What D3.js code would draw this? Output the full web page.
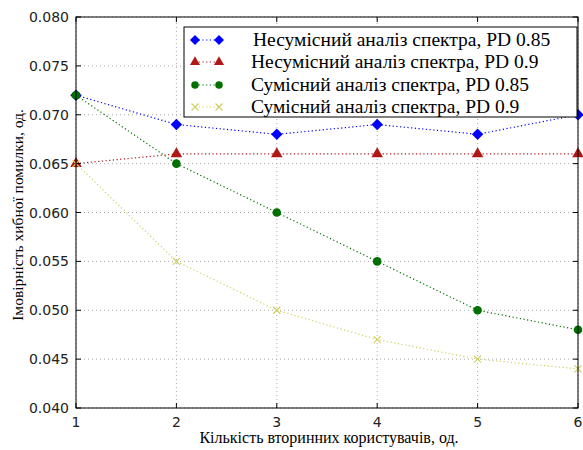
<!DOCTYPE html>
<html>
<head>
<meta charset="utf-8">
<script src="https://cdn.jsdelivr.net/npm/d3@7"></script>
<style>
  body { margin: 0; background: #fff; }
  svg { display: block; }
</style>
</head>
<body>
<div id="chart"></div>
<script>
  var users = [1, 2, 3, 4, 5, 6];
  var xTicks = [1, 2, 3, 4, 5, 6];
  var yTicks = [0.040, 0.045, 0.050, 0.055, 0.060, 0.065, 0.070, 0.075, 0.080];

  var nesum085 = [0.072, 0.069, 0.068, 0.069, 0.068, 0.070];
  var nesum09 = [0.065, 0.066, 0.066, 0.066, 0.066, 0.066];
  var sum085 = [0.072, 0.065, 0.060, 0.055, 0.050, 0.048];
  var sum09 = [0.065, 0.055, 0.050, 0.047, 0.045, 0.044];

  var seriesNames = [
    "Несумісний аналіз спектра, PD 0.85",
    "Несумісний аналіз спектра, PD 0.9",
    "Сумісний аналіз спектра, PD 0.85",
    "Сумісний аналіз спектра, PD 0.9"
  ];

  var series = [
    { name: seriesNames[0], values: nesum085, color: "#0000ff", marker: "diamond" },
    { name: seriesNames[1], values: nesum09, color: "#b01818", marker: "triangle" },
    { name: seriesNames[2], values: sum085, color: "#007000", marker: "circle" },
    { name: seriesNames[3], values: sum09, color: "#d0d060", marker: "x" }
  ];

  var W = 583, H = 450;
  var m = { left: 76, right: 5, top: 17, bottom: 42 };
  var serif = "'Liberation Serif', 'Times New Roman', serif";
  var sans = "'DejaVu Sans', sans-serif";

  var svg = d3.select("#chart").append("svg").attr("width", W).attr("height", H);

  var x = d3.scaleLinear().domain([1, 6]).range([m.left, W - m.right]);
  var y = d3.scaleLinear().domain([0.040, 0.080]).range([H - m.bottom, m.top]);

  // grid
  var grid = svg.append("g");
  grid.selectAll(".gx").data(xTicks).enter().append("line")
    .attr("x1", d => x(d)).attr("x2", d => x(d))
    .attr("y1", y(0.040)).attr("y2", y(0.080))
    .attr("stroke", "#aaa").attr("stroke-width", 1).attr("stroke-dasharray", "1,3");
  grid.selectAll(".gy").data(yTicks).enter().append("line")
    .attr("x1", x(1)).attr("x2", x(6))
    .attr("y1", d => y(d)).attr("y2", d => y(d))
    .attr("stroke", "#aaa").attr("stroke-width", 1).attr("stroke-dasharray", "1,3");

  // lines
  var line = d3.line().x((d, i) => x(users[i])).y(d => y(d));
  svg.selectAll(".ser").data(series).enter().append("path")
    .attr("d", d => line(d.values))
    .attr("fill", "none")
    .attr("stroke", d => d.color)
    .attr("stroke-width", 1.2)
    .attr("stroke-dasharray", "1.2,2.5");

  function diamondPath(r) {
    return "M0," + (-r) + "L" + r + ",0L0," + r + "L" + (-r) + ",0Z";
  }

  function drawMarker(g, type, color, size) {
    if (type === "diamond") {
      g.append("path").attr("d", diamondPath(Math.sqrt(size) * 0.75)).attr("fill", color);
    } else if (type === "triangle") {
      g.append("path").attr("d", d3.symbol().type(d3.symbolTriangle).size(size)())
        .attr("fill", color);
    } else if (type === "circle") {
      g.append("path").attr("d", d3.symbol().type(d3.symbolCircle).size(size)())
        .attr("fill", color);
    } else {
      g.append("path").attr("d", "M-3.5,-3.5L3.5,3.5M-3.5,3.5L3.5,-3.5")
        .attr("stroke", color).attr("stroke-width", 1.2).attr("fill", "none");
    }
  }

  series.forEach(function (s) {
    s.values.forEach(function (v, i) {
      var g = svg.append("g").attr("transform", "translate(" + x(users[i]) + "," + y(v) + ")");
      drawMarker(g, s.marker, s.color, 58);
    });
  });

  // frame
  svg.append("rect")
    .attr("x", x(1)).attr("y", y(0.080))
    .attr("width", x(6) - x(1)).attr("height", y(0.040) - y(0.080))
    .attr("fill", "none").attr("stroke", "#000").attr("stroke-width", 1);

  // inward tick marks
  var tk = svg.append("g").attr("stroke", "#000").attr("stroke-width", 1);
  xTicks.forEach(function (t) {
    tk.append("line").attr("x1", x(t)).attr("x2", x(t)).attr("y1", y(0.040)).attr("y2", y(0.040) - 5);
    tk.append("line").attr("x1", x(t)).attr("x2", x(t)).attr("y1", y(0.080)).attr("y2", y(0.080) + 5);
  });
  yTicks.forEach(function (t) {
    tk.append("line").attr("x1", x(1)).attr("x2", x(1) + 5).attr("y1", y(t)).attr("y2", y(t));
    tk.append("line").attr("x1", x(6)).attr("x2", x(6) - 5).attr("y1", y(t)).attr("y2", y(t));
  });

  // tick labels
  svg.selectAll(".yt").data(yTicks).enter().append("text")
    .attr("x", x(1) - 7).attr("y", d => y(d) + 5)
    .attr("text-anchor", "end")
    .attr("font-family", sans).attr("font-size", 14).attr("fill", "#222")
    .text(d => d3.format(".3f")(d));
  svg.selectAll(".xt").data(xTicks).enter().append("text")
    .attr("x", d => x(d)).attr("y", y(0.040) + 19)
    .attr("text-anchor", "middle")
    .attr("font-family", sans).attr("font-size", 14).attr("fill", "#222")
    .text(d => d);

  // axis labels
  svg.append("text")
    .attr("x", 329).attr("y", 443)
    .attr("text-anchor", "middle")
    .attr("font-family", serif).attr("font-size", 16)
    .text("Кількість вторинних користувачів, од.");
  svg.append("text")
    .attr("transform", "translate(23,215) rotate(-90)")
    .attr("text-anchor", "middle")
    .attr("font-family", serif).attr("font-size", 15.5)
    .text("Імовірність хибної помилки, од.");

  // legend
  var lg = svg.append("g");
  lg.append("rect").attr("x", 184).attr("y", 27).attr("width", 393).attr("height", 90)
    .attr("fill", "#fff").attr("stroke", "#000").attr("stroke-width", 1);
  var rowY = [40, 62, 85, 107];
  series.forEach(function (s, i) {
    var yy = rowY[i];
    lg.append("line").attr("x1", 195).attr("x2", 219).attr("y1", yy).attr("y2", yy)
      .attr("stroke", s.color).attr("stroke-width", 1.2).attr("stroke-dasharray", "1.2,2.5");
    [195, 219].forEach(function (mx) {
      var g = lg.append("g").attr("transform", "translate(" + mx + "," + yy + ")");
      drawMarker(g, s.marker, s.color, 44);
    });
    lg.append("text").attr("x", i === 0 ? 253 : 251).attr("y", yy + 6)
      .attr("font-family", serif).attr("font-size", 19.5)
      .text(s.name);
  });
</script>
</body>
</html>
